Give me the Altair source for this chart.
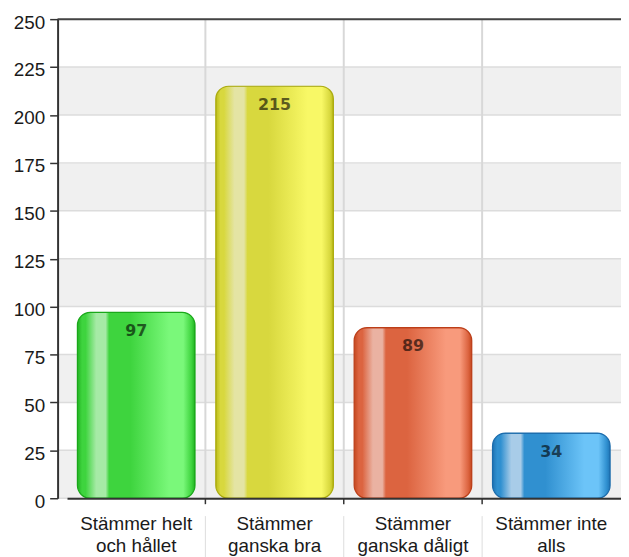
import altair as alt
import pandas as pd

# ---- data ----
categories = ["Stämmer helt\noch hållet", "Stämmer\nganska bra", "Stämmer\nganska dåligt", "Stämmer inte\nalls"]
values = [97, 215, 89, 34]
y_ticks = [0, 25, 50, 75, 100, 125, 150, 175, 200, 225, 250]
band_lo = [0, 50, 100, 150, 200]
band_hi = [25, 75, 125, 175, 225]

# ---- styles ----
W, H = 568, 483
palette = [
    # edge, base, highlight, light, stroke
    ("#22b222", "#3ed43e", "#a6eaa6", "#7af87a", "#1aa81a"),
    ("#bcbc18", "#d8d83e", "#e4e4a4", "#f8f866", "#acac10"),
    ("#c4481e", "#dc6440", "#eab2a2", "#f89a7c", "#bc3e18"),
    ("#1f74b4", "#3090d0", "#a8cce8", "#6cc4f8", "#1c6cac"),
]


def grad(edge, base, hi, light):
    stops = [(0.0, edge), (0.04, base), (0.07, base), (0.16, hi), (0.24, hi),
             (0.27, base), (0.45, base), (0.78, light), (0.90, light), (0.97, base), (1.0, edge)]
    return alt.Gradient(gradient="linear", x1=0, x2=1, y1=0, y2=0,
                        stops=[alt.GradientStop(offset=o, color=c) for o, c in stops])


df = pd.DataFrame({"cat": categories, "value": values})
bands = pd.DataFrame({"lo": band_lo, "hi": band_hi})
ticks = pd.DataFrame({"v": y_ticks})
bounds = pd.DataFrame({"cat": categories[1:]})

xscale = alt.Scale(domain=categories, range=[9.5, 567.5], paddingInner=0, paddingOuter=0)
yscale = alt.Scale(domain=[0, 250], nice=False)

xaxis = alt.Axis(labelAngle=0, labelAlign="center", ticks=False, tickSize=0, labelPadding=17,
                 labelExpr="split(datum.label, '\\n')", labelLineHeight=22,
                 labelBaseline="top", domainColor="#333333", domainWidth=2,
                 labelFont="Liberation Sans", labelFontSize=19, labelColor="#1a1a1a",
                 zindex=1, grid=False, title=None)
xenc = alt.X("cat:N", scale=xscale, sort=None, title=None, axis=xaxis)
yenc = alt.Y("value:Q", scale=yscale, title=None,
             axis=alt.Axis(values=y_ticks, tickSize=8, tickColor="#333333", tickWidth=1.5,
                           domainColor="#333333", domainWidth=2, labelPadding=5,
                           labelFont="Liberation Sans", labelFontSize=19, labelColor="#1a1a1a",
                           labelOffset=3, grid=False, zindex=1))


def xb():
    return alt.X("cat:N", scale=xscale, bandPosition=0, axis=xaxis, title=None)


bg = alt.Chart(bands).mark_rect(color="#f0f0f0").encode(
    y=alt.Y("lo:Q", scale=yscale), y2="hi:Q")
hgrid = alt.Chart(ticks).mark_rule(color="#dcdcdc", strokeWidth=1.5).encode(
    y=alt.Y("v:Q", scale=yscale))
vgrid = alt.Chart(bounds).mark_rule(color="#d8d8d8", strokeWidth=2).encode(x=xb())
top = alt.Chart(ticks).transform_filter("datum.v == 250").mark_rule(
    color="#444444", strokeWidth=2).encode(y=alt.Y("v:Q", scale=yscale))

bars = []
for i, cat in enumerate(categories):
    e, b, h, l, s = palette[i]
    bars.append(
        alt.Chart(df).transform_filter(alt.datum.cat == cat).mark_bar(
            color=grad(e, b, h, l), stroke=s, strokeWidth=1.2, cornerRadius=13,
            width=alt.RelativeBandSize(0.85)
        ).encode(x=xenc, y=yenc)
    )

labels = alt.Chart(df).mark_text(
    font="DejaVu Sans", fontWeight="bold", fontSize=16, baseline="middle", dy=19,
    color="#000000", opacity=0.6
).encode(x=xenc, y=alt.Y("value:Q", scale=yscale),
         text="value:Q")

xticks = alt.Chart(bounds).mark_rule(color="#333333", strokeWidth=1.5).encode(
    x=xb(), y=alt.value(H), y2=alt.value(H + 6))
seps = alt.Chart(bounds).mark_rule(color="#dddddd", strokeWidth=1).encode(
    x=xb(), y=alt.value(H + 18), y2=alt.value(H + 60))

chart = alt.layer(bg, hgrid, vgrid, top, *bars, labels, xticks, seps).properties(
    width=W, height=H,
    autosize=alt.AutoSizeParams(type="none"),
    padding={"left": 50, "top": 9, "right": 0, "bottom": 57},
).configure_view(stroke=None)

chart.save("out.html", embed_options={"renderer": "svg", "actions": False})
